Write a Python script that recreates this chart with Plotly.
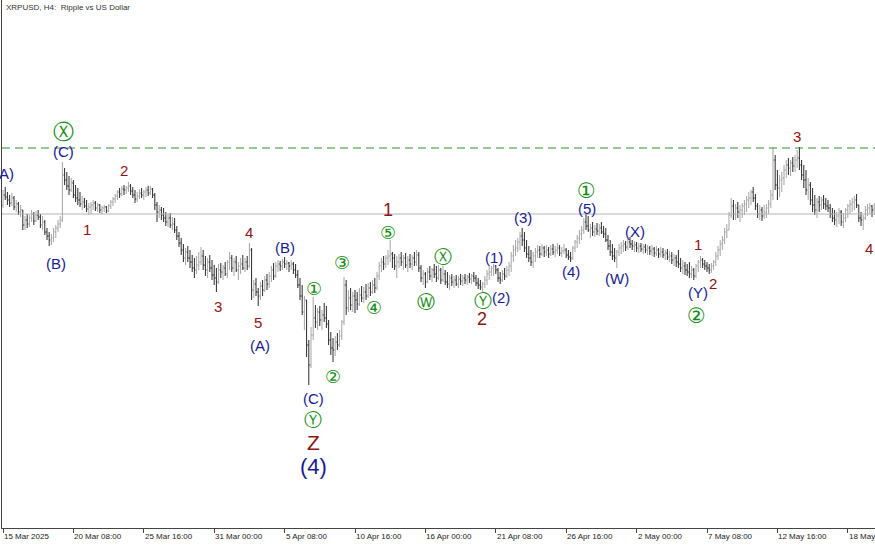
import pandas as pd
import plotly.graph_objects as go

# XRPUSD H4 bars from 15 Mar 2025 (crypto trades 24/7, so a bar opens where the last one closed)
first_open = 2.38
highs = [
    2.44, 2.452, 2.432, 2.42, 2.428, 2.416, 2.4, 2.392, 2.38, 2.36,
    2.336, 2.344, 2.34, 2.36, 2.352, 2.356, 2.36, 2.344, 2.336, 2.32,
    2.288, 2.272, 2.264, 2.288, 2.3, 2.32, 2.336, 2.552, 2.528, 2.512,
    2.496, 2.488, 2.48, 2.46, 2.448, 2.432, 2.416, 2.408, 2.4, 2.388,
    2.392, 2.4, 2.396, 2.388, 2.384, 2.376, 2.38, 2.376, 2.384, 2.4,
    2.412, 2.424, 2.44, 2.448, 2.456, 2.46, 2.456, 2.472, 2.464, 2.452,
    2.44, 2.432, 2.444, 2.448, 2.44, 2.452, 2.456, 2.456, 2.448, 2.428,
    2.392, 2.38, 2.372, 2.368, 2.352, 2.344, 2.348, 2.332, 2.328, 2.296,
    2.272, 2.248, 2.224, 2.208, 2.216, 2.2, 2.18, 2.168, 2.176, 2.192,
    2.212, 2.2, 2.176, 2.168, 2.18, 2.16, 2.14, 2.128, 2.144, 2.148,
    2.14, 2.152, 2.16, 2.192, 2.18, 2.168, 2.176, 2.152, 2.168, 2.18,
    2.168, 2.176, 2.228, 2.208, 2.08, 2.088, 2.048, 2.072, 2.08, 2.096,
    2.104, 2.112, 2.136, 2.148, 2.152, 2.16, 2.156, 2.164, 2.172, 2.16,
    2.152, 2.16, 2.152, 2.144, 2.12, 2.088, 2.06, 2.016, 2.0, 1.84,
    1.892, 2.012, 1.98, 1.968, 1.976, 1.96, 1.988, 1.976, 1.92, 1.872,
    1.848, 1.856, 1.868, 1.88, 1.92, 2.092, 2.08, 2.04, 2.048, 2.032,
    2.04, 2.032, 2.048, 2.056, 2.052, 2.064, 2.068, 2.072, 2.08, 2.088,
    2.112, 2.152, 2.168, 2.176, 2.18, 2.2, 2.24, 2.192, 2.184, 2.176,
    2.184, 2.192, 2.18, 2.188, 2.176, 2.184, 2.18, 2.192, 2.2, 2.192,
    2.14, 2.12, 2.112, 2.128, 2.136, 2.128, 2.144, 2.136, 2.14, 2.128,
    2.136, 2.12, 2.112, 2.1, 2.104, 2.096, 2.1, 2.096, 2.104, 2.1,
    2.104, 2.1, 2.108, 2.104, 2.112, 2.1, 2.088, 2.08, 2.072, 2.096,
    2.12, 2.136, 2.136, 2.144, 2.14, 2.128, 2.112, 2.12, 2.128, 2.136,
    2.152, 2.192, 2.22, 2.24, 2.248, 2.272, 2.288, 2.272, 2.24, 2.216,
    2.2, 2.192, 2.208, 2.22, 2.216, 2.224, 2.216, 2.22, 2.212, 2.22,
    2.224, 2.216, 2.228, 2.22, 2.212, 2.224, 2.208, 2.2, 2.192, 2.216,
    2.24, 2.26, 2.28, 2.296, 2.328, 2.348, 2.336, 2.304, 2.312, 2.3,
    2.308, 2.304, 2.312, 2.296, 2.288, 2.26, 2.24, 2.224, 2.208, 2.2,
    2.224, 2.232, 2.24, 2.236, 2.244, 2.252, 2.24, 2.236, 2.232, 2.228,
    2.228, 2.224, 2.224, 2.22, 2.216, 2.22, 2.212, 2.216, 2.208, 2.212,
    2.208, 2.2, 2.204, 2.196, 2.192, 2.184, 2.18, 2.2, 2.168, 2.16,
    2.152, 2.144, 2.152, 2.136, 2.128, 2.144, 2.16, 2.176, 2.168, 2.16,
    2.152, 2.144, 2.148, 2.16, 2.192, 2.216, 2.24, 2.256, 2.288, 2.304,
    2.352, 2.408, 2.4, 2.384, 2.392, 2.38, 2.388, 2.4, 2.416, 2.432,
    2.44, 2.452, 2.424, 2.388, 2.38, 2.372, 2.38, 2.384, 2.4, 2.44,
    2.612, 2.58, 2.52, 2.5, 2.512, 2.54, 2.56, 2.568, 2.56, 2.572,
    2.58, 2.6, 2.612, 2.56, 2.54, 2.52, 2.488, 2.472, 2.448, 2.42,
    2.408, 2.416, 2.412, 2.42, 2.408, 2.4, 2.384, 2.368, 2.36, 2.352,
    2.368, 2.36, 2.348, 2.368, 2.384, 2.4, 2.408, 2.416, 2.424, 2.38,
    2.352, 2.34, 2.376, 2.384, 2.388, 2.38, 2.388,
]
lows = [
    2.368, 2.4, 2.38, 2.372, 2.376, 2.36, 2.352, 2.34, 2.332, 2.28,
    2.28, 2.288, 2.292, 2.312, 2.3, 2.312, 2.32, 2.288, 2.28, 2.26,
    2.24, 2.216, 2.22, 2.232, 2.248, 2.272, 2.288, 2.312, 2.46, 2.44,
    2.42, 2.432, 2.408, 2.392, 2.38, 2.372, 2.36, 2.368, 2.352, 2.34,
    2.344, 2.36, 2.356, 2.352, 2.348, 2.344, 2.352, 2.348, 2.352, 2.364,
    2.376, 2.388, 2.4, 2.408, 2.416, 2.42, 2.424, 2.432, 2.42, 2.408,
    2.388, 2.392, 2.404, 2.408, 2.4, 2.412, 2.416, 2.42, 2.408, 2.36,
    2.312, 2.328, 2.32, 2.312, 2.296, 2.292, 2.288, 2.28, 2.268, 2.24,
    2.212, 2.18, 2.152, 2.14, 2.152, 2.128, 2.112, 2.088, 2.104, 2.12,
    2.14, 2.12, 2.096, 2.088, 2.112, 2.08, 2.06, 2.032, 2.064, 2.088,
    2.08, 2.096, 2.088, 2.12, 2.112, 2.096, 2.112, 2.08, 2.104, 2.12,
    2.112, 2.12, 2.128, 2.0, 2.008, 2.016, 1.976, 2.0, 2.016, 2.032,
    2.04, 2.048, 2.072, 2.08, 2.088, 2.112, 2.116, 2.12, 2.128, 2.12,
    2.112, 2.12, 2.104, 2.088, 2.048, 2.0, 1.94, 1.88, 1.772, 1.66,
    1.728, 1.84, 1.888, 1.88, 1.896, 1.88, 1.912, 1.888, 1.82, 1.78,
    1.752, 1.776, 1.8, 1.812, 1.84, 1.9, 1.94, 1.952, 1.96, 1.952,
    1.948, 1.96, 1.976, 1.992, 1.988, 2.0, 2.008, 2.016, 2.024, 2.028,
    2.04, 2.08, 2.112, 2.12, 2.128, 2.14, 2.152, 2.128, 2.12, 2.088,
    2.128, 2.136, 2.12, 2.128, 2.112, 2.128, 2.12, 2.136, 2.136, 2.112,
    2.072, 2.06, 2.048, 2.068, 2.08, 2.072, 2.088, 2.072, 2.08, 2.064,
    2.072, 2.06, 2.048, 2.04, 2.056, 2.048, 2.056, 2.048, 2.06, 2.056,
    2.064, 2.06, 2.068, 2.064, 2.072, 2.056, 2.044, 2.04, 2.032, 2.048,
    2.06, 2.08, 2.096, 2.096, 2.104, 2.072, 2.064, 2.072, 2.08, 2.088,
    2.096, 2.112, 2.152, 2.176, 2.192, 2.2, 2.216, 2.192, 2.168, 2.152,
    2.136, 2.128, 2.152, 2.168, 2.168, 2.176, 2.172, 2.176, 2.168, 2.176,
    2.18, 2.172, 2.184, 2.176, 2.172, 2.184, 2.168, 2.16, 2.152, 2.16,
    2.192, 2.208, 2.224, 2.24, 2.264, 2.28, 2.272, 2.248, 2.256, 2.252,
    2.26, 2.256, 2.264, 2.248, 2.232, 2.2, 2.176, 2.16, 2.152, 2.128,
    2.176, 2.184, 2.192, 2.196, 2.2, 2.208, 2.2, 2.192, 2.192, 2.188,
    2.192, 2.184, 2.188, 2.18, 2.18, 2.176, 2.172, 2.176, 2.168, 2.172,
    2.168, 2.16, 2.16, 2.152, 2.144, 2.136, 2.132, 2.128, 2.112, 2.104,
    2.1, 2.096, 2.088, 2.088, 2.08, 2.088, 2.112, 2.128, 2.128, 2.12,
    2.112, 2.104, 2.108, 2.12, 2.136, 2.16, 2.176, 2.2, 2.224, 2.248,
    2.28, 2.328, 2.32, 2.32, 2.328, 2.312, 2.328, 2.34, 2.352, 2.368,
    2.38, 2.392, 2.36, 2.328, 2.32, 2.316, 2.324, 2.328, 2.344, 2.368,
    2.4, 2.44, 2.4, 2.412, 2.432, 2.46, 2.488, 2.5, 2.496, 2.512,
    2.512, 2.528, 2.52, 2.48, 2.448, 2.42, 2.4, 2.38, 2.352, 2.34,
    2.328, 2.352, 2.36, 2.364, 2.36, 2.352, 2.328, 2.312, 2.3, 2.292,
    2.304, 2.296, 2.288, 2.312, 2.328, 2.344, 2.352, 2.36, 2.368, 2.312,
    2.296, 2.28, 2.32, 2.336, 2.344, 2.332, 2.34,
]
closes = [
    2.42, 2.412, 2.4, 2.388, 2.408, 2.372, 2.384, 2.352, 2.36, 2.3,
    2.32, 2.304, 2.328, 2.344, 2.316, 2.34, 2.332, 2.3, 2.312, 2.272,
    2.256, 2.24, 2.248, 2.272, 2.288, 2.304, 2.32, 2.5, 2.48, 2.456,
    2.44, 2.468, 2.42, 2.408, 2.4, 2.384, 2.392, 2.376, 2.364, 2.372,
    2.38, 2.388, 2.368, 2.38, 2.36, 2.368, 2.372, 2.356, 2.376, 2.392,
    2.404, 2.416, 2.432, 2.424, 2.444, 2.44, 2.448, 2.456, 2.436, 2.42,
    2.404, 2.416, 2.428, 2.42, 2.432, 2.44, 2.428, 2.444, 2.42, 2.38,
    2.352, 2.36, 2.34, 2.328, 2.312, 2.328, 2.3, 2.304, 2.28, 2.256,
    2.228, 2.2, 2.168, 2.192, 2.168, 2.152, 2.128, 2.12, 2.14, 2.152,
    2.176, 2.14, 2.12, 2.152, 2.128, 2.1, 2.088, 2.072, 2.12, 2.112,
    2.128, 2.104, 2.152, 2.168, 2.128, 2.152, 2.12, 2.136, 2.144, 2.128,
    2.152, 2.136, 2.2, 2.04, 2.064, 2.032, 2.016, 2.056, 2.04, 2.08,
    2.064, 2.096, 2.12, 2.096, 2.136, 2.144, 2.136, 2.152, 2.144, 2.148,
    2.136, 2.144, 2.12, 2.1, 2.06, 2.016, 1.952, 2.0, 1.82, 1.74,
    1.86, 1.928, 1.912, 1.952, 1.92, 1.94, 1.928, 1.904, 1.84, 1.808,
    1.8, 1.832, 1.82, 1.856, 1.912, 2.06, 1.968, 2.008, 1.98, 2.016,
    2.0, 1.984, 2.02, 2.008, 2.032, 2.016, 2.048, 2.032, 2.06, 2.048,
    2.096, 2.136, 2.152, 2.144, 2.168, 2.176, 2.184, 2.168, 2.136, 2.152,
    2.168, 2.152, 2.168, 2.14, 2.16, 2.144, 2.168, 2.152, 2.18, 2.128,
    2.088, 2.104, 2.072, 2.112, 2.096, 2.12, 2.104, 2.088, 2.12, 2.08,
    2.104, 2.072, 2.064, 2.088, 2.072, 2.08, 2.064, 2.084, 2.076, 2.088,
    2.08, 2.092, 2.084, 2.096, 2.088, 2.068, 2.06, 2.052, 2.064, 2.08,
    2.104, 2.112, 2.128, 2.136, 2.12, 2.088, 2.08, 2.104, 2.096, 2.12,
    2.136, 2.176, 2.2, 2.208, 2.232, 2.256, 2.24, 2.208, 2.184, 2.168,
    2.152, 2.176, 2.192, 2.2, 2.184, 2.208, 2.192, 2.2, 2.184, 2.204,
    2.192, 2.2, 2.208, 2.188, 2.196, 2.2, 2.18, 2.172, 2.168, 2.208,
    2.232, 2.248, 2.264, 2.28, 2.312, 2.296, 2.28, 2.288, 2.272, 2.284,
    2.276, 2.288, 2.272, 2.264, 2.24, 2.216, 2.192, 2.176, 2.168, 2.192,
    2.208, 2.216, 2.224, 2.212, 2.232, 2.224, 2.216, 2.22, 2.208, 2.216,
    2.204, 2.212, 2.2, 2.208, 2.196, 2.204, 2.188, 2.2, 2.184, 2.192,
    2.18, 2.188, 2.172, 2.176, 2.16, 2.168, 2.152, 2.144, 2.128, 2.136,
    2.12, 2.112, 2.104, 2.12, 2.096, 2.136, 2.152, 2.16, 2.144, 2.136,
    2.128, 2.12, 2.136, 2.152, 2.176, 2.2, 2.224, 2.24, 2.272, 2.28,
    2.34, 2.376, 2.344, 2.368, 2.352, 2.36, 2.376, 2.384, 2.4, 2.408,
    2.432, 2.408, 2.376, 2.344, 2.36, 2.336, 2.352, 2.368, 2.384, 2.42,
    2.56, 2.46, 2.448, 2.48, 2.488, 2.52, 2.54, 2.528, 2.548, 2.536,
    2.56, 2.568, 2.54, 2.5, 2.48, 2.44, 2.46, 2.4, 2.38, 2.36,
    2.392, 2.38, 2.4, 2.384, 2.376, 2.368, 2.344, 2.328, 2.32, 2.336,
    2.352, 2.312, 2.328, 2.36, 2.376, 2.384, 2.392, 2.4, 2.38, 2.328,
    2.32, 2.328, 2.36, 2.368, 2.376, 2.36, 2.368,
]

times = pd.date_range("2025-03-15 00:00", periods=len(closes), freq="4h")
opens = [first_open] + closes[:-1]

bid_price = 2.344      # grey bid line
level_price = 2.608    # green dashed level

# time axis labels, one every 32 bars
tick_text = ["15 Mar 2025", "20 Mar 08:00", "25 Mar 16:00", "31 Mar 00:00",
             "5 Apr 08:00", "10 Apr 16:00", "16 Apr 00:00", "21 Apr 08:00",
             "26 Apr 16:00", "2 May 00:00", "7 May 08:00", "12 May 16:00",
             "18 May 00:00"]
tick_times = list(times[::32][:len(tick_text)])

# Elliott wave marks
wave_text = ["(A)", "Ⓧ", "(C)", "(B)", "1", "2", "3", "4", "5", "(A)", "(B)",
             "①", "(C)", "Ⓨ", "Z", "(4)", "②", "③", "④", "⑤", "1",
             "Ⓦ", "Ⓧ", "Ⓨ", "2", "(1)", "(2)", "(3)", "(4)", "(5)", "①",
             "(W)", "(X)", "1", "(Y)", "2", "②", "3", "4"]
wave_time = ["2025-03-15 02:00", "2025-03-19 14:48", "2025-03-19 14:48",
             "2025-03-19 00:24", "2025-03-21 08:44", "2025-03-24 04:00",
             "2025-03-31 06:54", "2025-04-02 15:18", "2025-04-03 07:36",
             "2025-04-03 11:18", "2025-04-05 08:42", "2025-04-07 13:30",
             "2025-04-07 11:38", "2025-04-07 11:38", "2025-04-07 11:38",
             "2025-04-07 11:38", "2025-04-09 00:00", "2025-04-09 16:24",
             "2025-04-12 02:30", "2025-04-13 04:00", "2025-04-13 04:00",
             "2025-04-16 01:06", "2025-04-17 08:00", "2025-04-20 08:44",
             "2025-04-20 07:00", "2025-04-21 04:44", "2025-04-21 17:30",
             "2025-04-23 09:30", "2025-04-27 00:44", "2025-04-28 05:48",
             "2025-04-28 05:48", "2025-04-30 12:24", "2025-05-01 21:06",
             "2025-05-06 15:36", "2025-05-06 15:36", "2025-05-07 18:54",
             "2025-05-06 12:00", "2025-05-14 03:36", "2025-05-19 14:30"]
wave_price = [2.508, 2.672, 2.596, 2.148, 2.284, 2.52, 1.976, 2.272, 1.912,
              1.82, 2.212, 2.048, 1.608, 1.524, 1.432, 1.336, 1.696, 2.152,
              1.972, 2.272, 2.36, 1.996, 2.176, 2.0, 1.924, 2.172, 2.012,
              2.332, 2.116, 2.368, 2.436, 2.088, 2.276, 2.224, 2.032, 2.068,
              1.936, 2.656, 2.208]
wave_style = ["n", "C", "n", "n", "r", "r", "r", "r", "r", "n", "n",
              "c", "n", "c", "Z", "N", "c", "c", "c", "c", "R",
              "c", "c", "c", "R", "n", "n", "n", "n", "n", "C",
              "n", "n", "r", "n", "r", "C", "r", "r"]

RED = "#8b1414"
NAVY = "#1a1a8e"
GREEN = "#138a13"
styles = {
    "r": (RED, 15, "Liberation Sans"),
    "R": (RED, 18, "Liberation Sans"),
    "Z": (RED, 21, "Liberation Sans"),
    "n": (NAVY, 15, "Liberation Sans"),
    "N": (NAVY, 22, "Liberation Sans"),
    "c": (GREEN, 18, "DejaVu Sans"),
    "C": (GREEN, 21, "DejaVu Sans"),
}

fig = go.Figure(go.Ohlc(
    x=times, open=opens, high=highs, low=lows, close=closes,
    increasing=dict(line=dict(color="#a4a4a4", width=1)),
    decreasing=dict(line=dict(color="#2a2a2a", width=1)),
    tickwidth=0.45, hoverinfo="skip", showlegend=False,
))

fig.add_hline(y=bid_price, line=dict(color="#b4b4b4", width=1))
fig.add_hline(y=level_price, line=dict(color="#2f8f2f", width=1, dash="8px,5px"))

for txt, t, p, s in zip(wave_text, wave_time, wave_price, wave_style):
    color, size, family = styles[s]
    fig.add_annotation(x=t, y=p, text=txt, showarrow=False,
                       xanchor="center", yanchor="middle",
                       font=dict(color=color, size=size, family=family))

for t, txt in zip(tick_times, tick_text):
    fig.add_annotation(x=t, y=0, yref="paper", text=txt, showarrow=False,
                       xanchor="left", yanchor="top", xshift=-1, yshift=-2,
                       font=dict(color="#222", size=8, family="Liberation Sans"))

fig.add_annotation(x=0, y=1, xref="paper", yref="paper",
                   text="XRPUSD, H4:  Ripple vs US Dollar", showarrow=False,
                   xanchor="left", yanchor="top", xshift=2, yshift=-1,
                   font=dict(color="#333", size=8, family="Liberation Sans"))

fig.update_layout(
    width=875, height=545,
    margin=dict(l=2, r=0, t=0, b=17),
    paper_bgcolor="white", plot_bgcolor="white",
    xaxis=dict(type="date", range=["2025-03-14 22:11", "2025-05-20 01:27"],
               rangeslider=dict(visible=False), showgrid=False, zeroline=False,
               showline=True, linecolor="#444", linewidth=1,
               tickmode="array", tickvals=tick_times, showticklabels=False,
               ticks="outside", ticklen=4, tickcolor="#444"),
    yaxis=dict(range=[1.088, 3.2], showgrid=False, zeroline=False,
               showticklabels=False, showline=True, linecolor="#444",
               linewidth=1, ticks=""),
)

# the page's default body margin would shift the chart by 8px
fig.write_html("out.html", config={"displayModeBar": False},
               post_script="document.body.style.margin='0';")
